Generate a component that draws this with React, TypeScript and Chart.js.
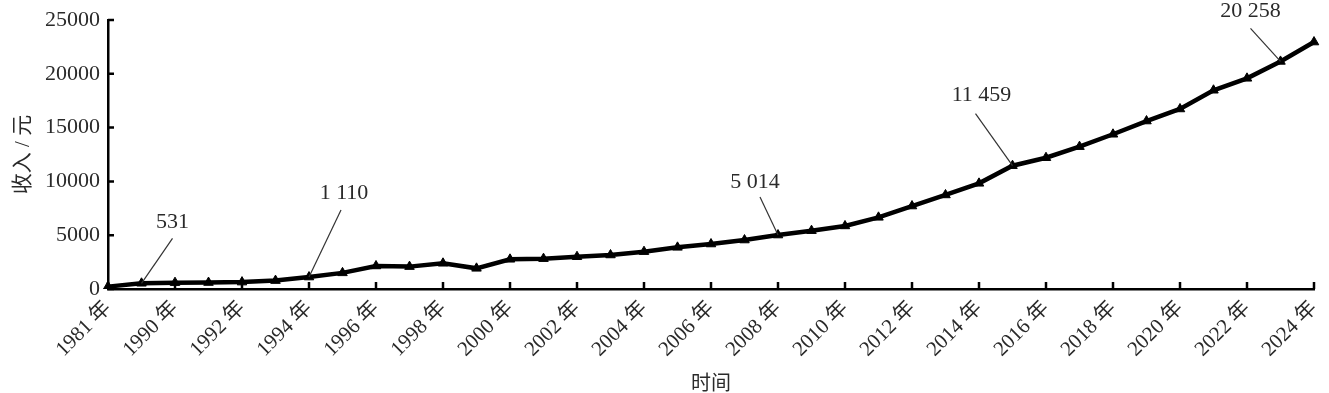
import React, { useEffect, useRef } from "react";
import { Chart, registerables } from "chart.js";

Chart.register(...registerables);

const categories = [
  "1981 年", "1989 年", "1990 年", "1991 年", "1992 年", "1993 年", "1994 年", "1995 年",
  "1996 年", "1997 年", "1998 年", "1999 年", "2000 年", "2001 年", "2002 年", "2003 年",
  "2004 年", "2005 年", "2006 年", "2007 年", "2008 年", "2009 年", "2010 年", "2011 年",
  "2012 年", "2013 年", "2014 年", "2015 年", "2016 年", "2017 年", "2018 年", "2019 年",
  "2020 年", "2021 年", "2022 年", "2023 年", "2024 年",
];

const income = [
  220, 531, 590, 600, 640, 780, 1110, 1500,
  2140, 2080, 2390, 1920, 2760, 2820, 3000, 3160,
  3470, 3870, 4180, 4550, 5014, 5420, 5860, 6660,
  7710, 8740, 9820, 11459, 12200, 13230, 14380, 15610,
  16730, 18470, 19580, 21150, 22950,
];

const yTicks = [0, 5000, 10000, 15000, 20000, 25000];

const calloutYears = ["1989 年", "1994 年", "2008 年", "2015 年", "2023 年"];
const calloutTexts = ["531", "1 110", "5 014", "11 459", "20 258"];

// leader-line end and text-centre offsets (px) relative to each callout point
const calloutLayout = [
  { lx: 31, ly: -45, tx: 31, ty: -61 },
  { lx: 32, ly: -67, tx: 35, ty: -84 },
  { lx: -18, ly: -38, tx: -23, ty: -53 },
  { lx: -37, ly: -52, tx: -31, ty: -70 },
  { lx: -30, ly: -33, tx: -30, ty: -50 },
];

const SERIF = '"Liberation Serif", "Noto Sans CJK SC", serif';
const TEXT = "#2a2a2a";

const innerTicks = {
  id: "innerTicks",
  beforeDatasetsDraw(chart: any) {
    const { ctx, scales } = chart;
    const x = scales.x;
    const y = scales.y;
    ctx.save();
    ctx.strokeStyle = "#000";
    ctx.lineWidth = 2.5;
    ctx.beginPath();
    for (let i = 0; i < categories.length; i += 2) {
      const px = x.getPixelForValue(i);
      ctx.moveTo(px, y.bottom);
      ctx.lineTo(px, y.bottom - 7);
    }
    yTicks.forEach((v) => {
      const py = y.getPixelForValue(v);
      ctx.moveTo(x.left, py);
      ctx.lineTo(x.left + 6, py);
    });
    ctx.stroke();
    ctx.restore();
  },
};

const callouts = {
  id: "callouts",
  afterDatasetsDraw(chart: any) {
    const { ctx, scales } = chart;
    ctx.save();
    calloutYears.forEach((yr, k) => {
      const idx = categories.indexOf(yr);
      const px = scales.x.getPixelForValue(idx);
      const py = scales.y.getPixelForValue(income[idx]);
      const L = calloutLayout[k];
      ctx.strokeStyle = "#333";
      ctx.lineWidth = 1.2;
      ctx.beginPath();
      ctx.moveTo(px, py);
      ctx.lineTo(px + L.lx, py + L.ly);
      ctx.stroke();
      ctx.fillStyle = TEXT;
      ctx.font = `22px ${SERIF}`;
      ctx.textAlign = "center";
      ctx.textBaseline = "middle";
      ctx.fillText(calloutTexts[k], px + L.tx, py + L.ty);
    });
    ctx.restore();
  },
};

export default function App() {
  const ref = useRef<HTMLCanvasElement>(null);
  useEffect(() => {
    document.body.style.margin = "0";
    const chart = new Chart(ref.current!, {
      type: "line",
      data: {
        labels: categories,
        datasets: [
          {
            data: income,
            borderColor: "#000",
            backgroundColor: "#000",
            borderWidth: 4.5,
            pointStyle: "triangle",
            pointRadius: 5.5,
            pointBorderWidth: 1,
            pointBackgroundColor: "#000",
            pointBorderColor: "#000",
            tension: 0,
          },
        ],
      },
      options: {
        animation: false,
        responsive: false,
        maintainAspectRatio: false,
        layout: { padding: { left: 0, right: 15, top: 20, bottom: 0 } },
        plugins: { legend: { display: false }, tooltip: { enabled: false } },
        scales: {
          x: {
            type: "category",
            offset: false,
            grid: { display: false, drawTicks: false },
            border: { display: true, color: "#000", width: 2.5 },
            afterFit(scale: any) {
              scale.height = 104;
              scale.paddingRight = 0;
              scale.paddingLeft = 0;
            },
            ticks: {
              autoSkip: false,
              maxRotation: 45,
              minRotation: 45,
              padding: 7,
              color: TEXT,
              font: { family: SERIF, size: 21 },
              callback(_v: any, i: number) {
                return i % 2 === 0 ? categories[i] : "";
              },
            },
            title: {
              display: true,
              text: "时间",
              color: TEXT,
              font: { family: SERIF, size: 20, lineHeight: 0.8 },
              padding: { top: 0, bottom: 0 },
            },
          },
          y: {
            min: 0,
            max: 25000,
            grid: { display: false, drawTicks: false },
            border: { display: true, color: "#000", width: 2.5 },
            afterFit(scale: any) {
              scale.width = 108;
              scale.paddingTop = 0;
              scale.paddingBottom = 0;
            },
            ticks: {
              stepSize: 5000,
              padding: 8,
              color: TEXT,
              font: { family: SERIF, size: 22 },
              callback(v: any) {
                return String(v);
              },
            },
            title: {
              display: true,
              text: "收入 / 元",
              color: TEXT,
              font: { family: SERIF, size: 21, lineHeight: 1.2 },
              padding: { top: 11, bottom: 0 },
            },
          },
        },
      },
      plugins: [innerTicks, callouts],
    });
    return () => chart.destroy();
  }, []);
  return (
    <div style={{ position: "absolute", left: 0, top: 0, width: 1329, height: 393, background: "#fff" }}>
      <canvas ref={ref} width={1329} height={393} style={{ display: "block" }} />
    </div>
  );
}
